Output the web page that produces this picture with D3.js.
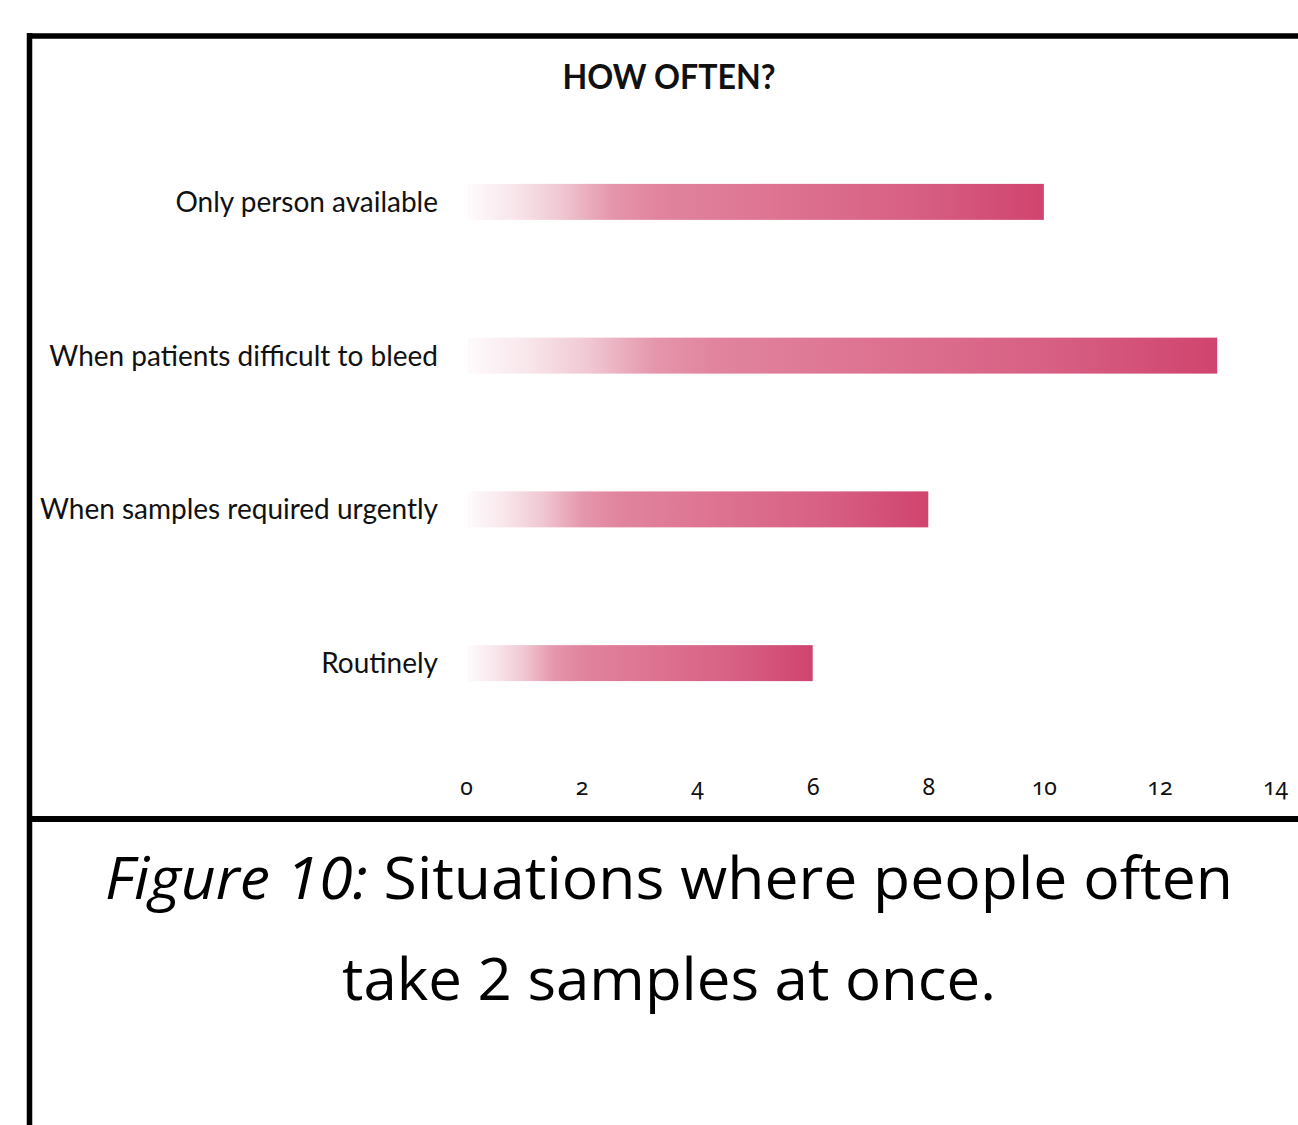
<!DOCTYPE html>
<html>
<head>
<meta charset="utf-8">
<script src="https://cdnjs.cloudflare.com/ajax/libs/d3/7.8.5/d3.min.js"></script>
<style>
  html, body { margin: 0; padding: 0; background: #fff; }
  svg { display: block; }
</style>
</head>
<body>
<svg id="chart" width="1298" height="1125"></svg>
<script>
// Survey answers: how often two samples are taken at once
const categories = [
  "Only person available",
  "When patients difficult to bleed",
  "When samples required urgently",
  "Routinely"
];
const values = [10, 13, 8, 6];
const tickValues = [0, 2, 4, 6, 8, 10, 12, 14];
const chartTitle = "HOW OFTEN?";
const captionItalic = "Figure 10:";
const captionRest = " Situations where people often";
const captionLine2 = "take 2 samples at once.";

const svg = d3.select("#chart");
const W = 1298, H = 1125;

// Frame: top rule, left rule and the divider above the caption
const frame = svg.append("g").attr("stroke", "#000").attr("fill", "none");
frame.append("line").attr("x1", 27).attr("x2", W).attr("y1", 36).attr("y2", 36).attr("stroke-width", 5.5);
frame.append("line").attr("x1", 29.5).attr("x2", 29.5).attr("y1", 33).attr("y2", H).attr("stroke-width", 5.5);
frame.append("line").attr("x1", 27).attr("x2", W).attr("y1", 819).attr("y2", 819).attr("stroke-width", 6);

// Scales
const x = d3.scaleLinear().domain([0, 14]).range([466, 1275]);
const y = d3.scaleBand().domain(categories).range([125, 740])
  .paddingInner(0.766).paddingOuter(0.383);

// Bar gradient: fades in from white on the left to deep rose on the right
const defs = svg.append("defs");
const grad = defs.append("linearGradient").attr("id", "barFade")
  .attr("x1", "0%").attr("x2", "100%").attr("y1", "0%").attr("y2", "0%");
[
  [0.00, "#fefafb"],
  [0.08, "#f8e6eb"],
  [0.16, "#f0c8d3"],
  [0.25, "#e596ac"],
  [0.33, "#e1849e"],
  [0.55, "#dd7290"],
  [0.78, "#d75f83"],
  [1.00, "#d0446e"]
].forEach(([o, c]) => grad.append("stop").attr("offset", o).attr("stop-color", c));

// Title
svg.append("text")
  .attr("x", 669).attr("y", 89)
  .attr("text-anchor", "middle")
  .attr("font-family", "Lato, 'Open Sans', sans-serif")
  .attr("font-weight", 700)
  .attr("font-size", 34)
  .attr("textLength", 213).attr("lengthAdjust", "spacingAndGlyphs")
  .attr("fill", "#111")
  .text(chartTitle);

// Bars
svg.append("g").selectAll("rect")
  .data(categories)
  .join("rect")
  .attr("x", x(0) + 2)
  .attr("y", d => y(d))
  .attr("width", (d, i) => x(values[i]) - x(0) - 2)
  .attr("height", y.bandwidth())
  .attr("fill", "url(#barFade)");

// Category labels, right-aligned against the bars
const labelFont = "Lato, 'Open Sans', sans-serif";
const labels = svg.append("g").selectAll("text")
  .data(categories)
  .join("text")
  .attr("x", 438)
  .attr("y", d => y(d) + y.bandwidth() / 2 + 10)
  .attr("text-anchor", "end")
  .attr("font-family", labelFont)
  .attr("font-size", 29)
  .attr("fill", "#111")
  .text(d => d);
// Narrow the labels slightly to a condensed humanist look
labels.each(function () {
  const len = this.getComputedTextLength();
  d3.select(this).attr("textLength", len * 0.965).attr("lengthAdjust", "spacingAndGlyphs");
});

// Value axis along the bottom, labels only
const axis = d3.axisBottom(x).tickValues(tickValues).tickSize(0).tickPadding(0)
  .tickFormat(d3.format("d"));
const axisG = svg.append("g").attr("transform", "translate(0,778)").call(axis);
axisG.select(".domain").remove();
axisG.selectAll("text")
  .attr("font-family", "'Noto Sans', Lato, sans-serif")
  .attr("font-size", 23)
  .attr("fill", "#111")
  .style("font-feature-settings", "'onum' 1")
  .attr("dy", "0.75em");

// Caption under the chart
const cap1 = svg.append("text")
  .attr("x", 669).attr("y", 899)
  .attr("text-anchor", "middle")
  .attr("font-family", "'Open Sans', Lato, sans-serif")
  .attr("font-size", 58)
  .attr("fill", "#000")
  .attr("textLength", 1128).attr("lengthAdjust", "spacingAndGlyphs");
cap1.append("tspan").attr("font-style", "italic").text(captionItalic);
cap1.append("tspan").text(captionRest);

svg.append("text")
  .attr("x", 669).attr("y", 1000)
  .attr("text-anchor", "middle")
  .attr("font-family", "'Open Sans', Lato, sans-serif")
  .attr("font-size", 58)
  .attr("fill", "#000")
  .attr("textLength", 654).attr("lengthAdjust", "spacingAndGlyphs")
  .text(captionLine2);
</script>
</body>
</html>
